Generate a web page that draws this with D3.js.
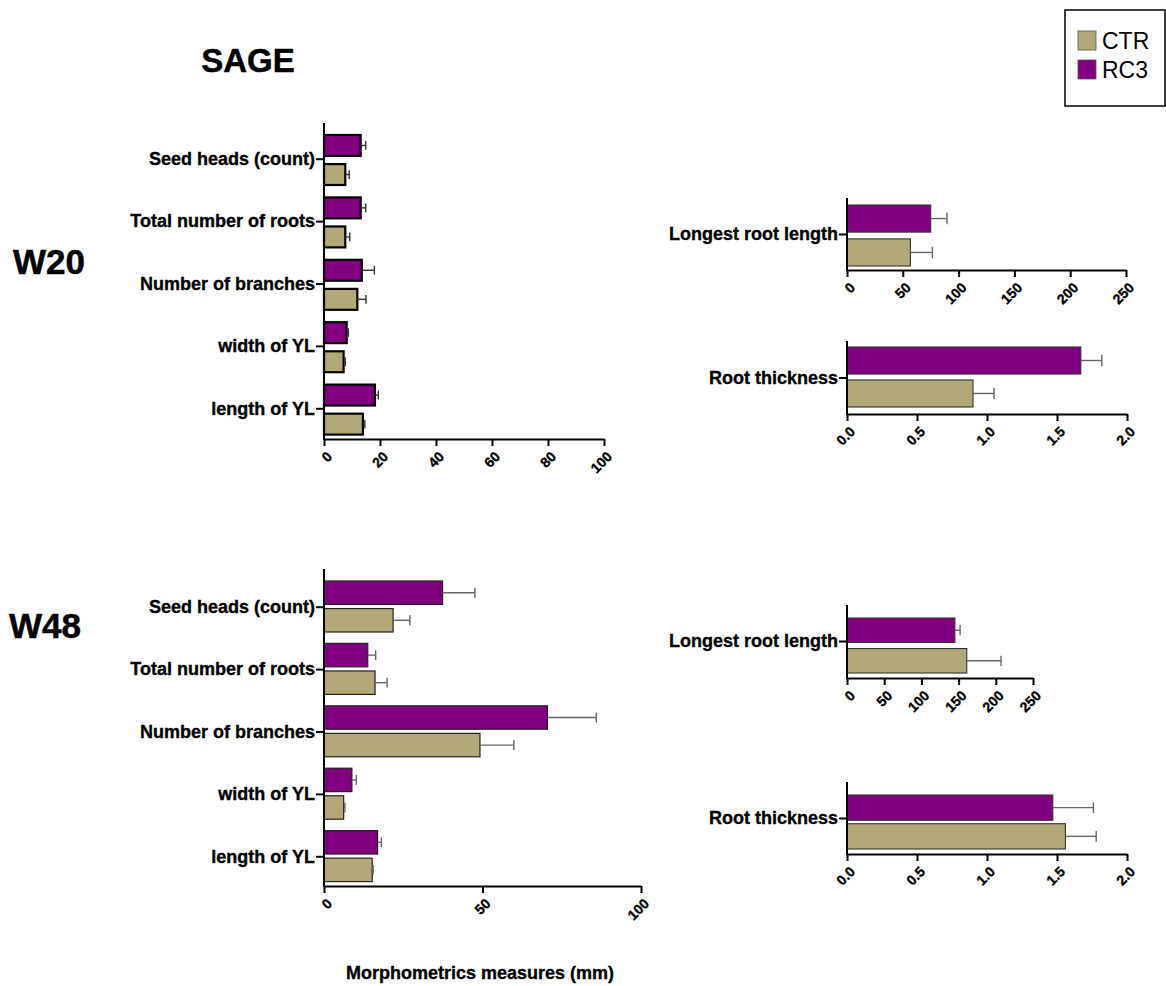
<!DOCTYPE html>
<html>
<head>
<meta charset="utf-8">
<script src="https://cdn.jsdelivr.net/npm/d3@7"></script>
<style>
  body { margin: 0; background: #fff; }
  svg text { font-family: "Liberation Sans", Arial, sans-serif; }
</style>
</head>
<body>
<div id="chart-container"></div>
<script>
// morphometrics of sage, CTR vs RC3, two harvest weeks
const svgWidth = 1166;
const svgHeight = 986;

const ctrColor = "#b3a878";
const rc3Color = "#800080";

// W20 small measures
const smallCats = ["Seed heads (count)", "Total number of roots", "Number of branches", "width of YL", "length of YL"];
const w20Ctr = [7.6, 7.6, 11.9, 7.0, 13.9];
const w20CtrErr = [1.4, 1.6, 3.1, 0.6, 0.7];
const w20Rc3 = [13.1, 13.1, 13.5, 8.1, 18.2];
const w20Rc3Err = [1.8, 1.8, 4.5, 0.6, 1.2];

// W48 small measures
const w48Ctr = [21.8, 16.1, 49.2, 6.2, 15.2];
const w48CtrErr = [5.3, 3.8, 10.7, 0.4, 0.3];
const w48Rc3 = [37.4, 13.8, 70.5, 8.8, 16.9];
const w48Rc3Err = [10.2, 2.5, 15.4, 1.4, 1.2];

// root measures [W20, W48]
const rootLenCtr = [56.8, 161];
const rootLenCtrErr = [19.7, 46];
const rootLenRc3 = [75, 145];
const rootLenRc3Err = [14.6, 7];
const rootThickCtr = [0.90, 1.56];
const rootThickCtrErr = [0.15, 0.22];
const rootThickRc3 = [1.67, 1.47];
const rootThickRc3Err = [0.15, 0.29];

const ticksW20 = [0, 20, 40, 60, 80, 100];
const ticksW48 = [0, 50, 100];
const ticksLen = [0, 50, 100, 150, 200, 250];
const ticksThick = [0, 0.5, 1.0, 1.5, 2.0];

const svg = d3.select("#chart-container")
    .append("svg")
    .attr("width", svgWidth)
    .attr("height", svgHeight);

function drawPanel(p) {
    const g = svg.append("g");
    const x = d3.scaleLinear().domain([0, p.max]).range([p.left, p.right]);
    const y = d3.scaleBand().domain(p.cats).range([p.bandTop, p.bandBottom]);
    const y1 = d3.scaleBand().domain(["RC3", "CTR"]).range(p.inner).paddingInner(p.pad);

    const rows = [];
    p.cats.forEach((c, i) => {
        rows.push({ cat: c, grp: "RC3", v: p.rc3[i], e: p.rc3Err[i] });
        rows.push({ cat: c, grp: "CTR", v: p.ctr[i], e: p.ctrErr[i] });
    });

    // bars
    g.selectAll("rect.bar")
        .data(rows)
        .join("rect")
        .attr("class", "bar")
        .attr("x", x(0))
        .attr("y", d => y(d.cat) + y1(d.grp))
        .attr("width", d => x(d.v) - x(0))
        .attr("height", y1.bandwidth())
        .attr("fill", d => d.grp == "CTR" ? ctrColor : rc3Color)
        .attr("stroke", p.barStroke)
        .attr("stroke-width", p.barStrokeW);

    // error bars
    const capH = y1.bandwidth() * 0.42;
    g.selectAll("line.err")
        .data(rows)
        .join("line")
        .attr("class", "err")
        .attr("x1", d => x(d.v))
        .attr("x2", d => x(d.v + d.e))
        .attr("y1", d => y(d.cat) + y1(d.grp) + y1.bandwidth() / 2)
        .attr("y2", d => y(d.cat) + y1(d.grp) + y1.bandwidth() / 2)
        .attr("stroke", p.errColor)
        .attr("stroke-width", 1.4);
    g.selectAll("line.cap")
        .data(rows)
        .join("line")
        .attr("class", "cap")
        .attr("x1", d => x(d.v + d.e))
        .attr("x2", d => x(d.v + d.e))
        .attr("y1", d => y(d.cat) + y1(d.grp) + y1.bandwidth() / 2 - capH / 2)
        .attr("y2", d => y(d.cat) + y1(d.grp) + y1.bandwidth() / 2 + capH / 2)
        .attr("stroke", p.errColor)
        .attr("stroke-width", 1.4);

    // y axis
    const yAxis = g.append("g")
        .attr("transform", `translate(${p.left},0)`)
        .call(d3.axisLeft(y).tickSize(8).tickPadding(1));
    yAxis.select(".domain").remove();
    yAxis.selectAll(".tick line").attr("stroke", "#000").attr("stroke-width", 2);
    yAxis.selectAll(".tick text")
        .attr("fill", "#000")
        .attr("stroke", "#000").attr("stroke-width", 0.35)
        .style("font-size", "18px")
        .style("font-weight", "bold");
    g.append("line")
        .attr("x1", p.left).attr("x2", p.left)
        .attr("y1", p.axisTop).attr("y2", p.axisY + 1)
        .attr("stroke", "#000").attr("stroke-width", 2);

    // x axis
    const xAxis = g.append("g")
        .attr("transform", `translate(0,${p.axisY})`)
        .call(d3.axisBottom(x).tickValues(p.ticks).tickFormat(p.fmt).tickSize(7).tickSizeOuter(0));
    xAxis.select(".domain").attr("stroke", "#000").attr("stroke-width", 2);
    xAxis.selectAll(".tick line").attr("stroke", "#000").attr("stroke-width", 2);
    xAxis.selectAll(".tick text")
        .attr("fill", "#000")
        .attr("stroke", "#000").attr("stroke-width", 0.35)
        .attr("x", 0).attr("y", 0).attr("dy", "0.35em")
        .attr("transform", "translate(5,15) rotate(-45)")
        .style("text-anchor", "end")
        .style("font-size", "14px")
        .style("font-weight", "bold");
}

// W20 left
drawPanel({
    cats: smallCats, ctr: w20Ctr, ctrErr: w20CtrErr, rc3: w20Rc3, rc3Err: w20Rc3Err,
    max: 100, ticks: ticksW20, fmt: d3.format("d"),
    left: 324, right: 604, bandTop: 128, bandBottom: 440, axisTop: 123, axisY: 439,
    inner: [7, 57], pad: 0.28, barStroke: "#000", barStrokeW: 2.2, errColor: "#333"
});
// W48 left
drawPanel({
    cats: smallCats, ctr: w48Ctr, ctrErr: w48CtrErr, rc3: w48Rc3, rc3Err: w48Rc3Err,
    max: 100, ticks: ticksW48, fmt: d3.format("d"),
    left: 324, right: 641, bandTop: 576, bandBottom: 888, axisTop: 569, axisY: 886,
    inner: [5, 56], pad: 0.15, barStroke: "#222", barStrokeW: 1.2, errColor: "#666"
});
// root length W20
drawPanel({
    cats: ["Longest root length"], ctr: [rootLenCtr[0]], ctrErr: [rootLenCtrErr[0]],
    rc3: [rootLenRc3[0]], rc3Err: [rootLenRc3Err[0]],
    max: 250, ticks: ticksLen, fmt: d3.format("d"),
    left: 847, right: 1126, bandTop: 199, bandBottom: 270, axisTop: 198, axisY: 270,
    inner: [6, 67], pad: 0.2, barStroke: "#333", barStrokeW: 1.1, errColor: "#666"
});
// root thickness W20
drawPanel({
    cats: ["Root thickness"], ctr: [rootThickCtr[0]], ctrErr: [rootThickCtrErr[0]],
    rc3: [rootThickRc3[0]], rc3Err: [rootThickRc3Err[0]],
    max: 2, ticks: ticksThick, fmt: d3.format(".1f"),
    left: 847, right: 1127, bandTop: 342, bandBottom: 414, axisTop: 341, axisY: 414,
    inner: [5, 65], pad: 0.18, barStroke: "#333", barStrokeW: 1.1, errColor: "#666"
});
// root length W48
drawPanel({
    cats: ["Longest root length"], ctr: [rootLenCtr[1]], ctrErr: [rootLenCtrErr[1]],
    rc3: [rootLenRc3[1]], rc3Err: [rootLenRc3Err[1]],
    max: 250, ticks: ticksLen, fmt: d3.format("d"),
    left: 847, right: 1033, bandTop: 605, bandBottom: 678, axisTop: 605, axisY: 678,
    inner: [13, 68], pad: 0.2, barStroke: "#333", barStrokeW: 1.1, errColor: "#666"
});
// root thickness W48
drawPanel({
    cats: ["Root thickness"], ctr: [rootThickCtr[1]], ctrErr: [rootThickCtrErr[1]],
    rc3: [rootThickRc3[1]], rc3Err: [rootThickRc3Err[1]],
    max: 2, ticks: ticksThick, fmt: d3.format(".1f"),
    left: 847, right: 1127, bandTop: 783, bandBottom: 854, axisTop: 782, axisY: 854,
    inner: [12, 66], pad: 0.12, barStroke: "#333", barStrokeW: 1.1, errColor: "#666"
});

// titles
svg.append("text").text("SAGE")
    .attr("x", 248).attr("y", 72)
    .attr("text-anchor", "middle")
    .attr("stroke", "#000").attr("stroke-width", 0.5)
    .style("font-size", "33px").style("font-weight", "bold");
svg.append("text").text("W20")
    .attr("x", 13).attr("y", 274)
    .attr("stroke", "#000").attr("stroke-width", 0.5)
    .style("font-size", "35px").style("font-weight", "bold");
svg.append("text").text("W48")
    .attr("x", 9).attr("y", 638)
    .attr("stroke", "#000").attr("stroke-width", 0.5)
    .style("font-size", "35px").style("font-weight", "bold");
svg.append("text").text("Morphometrics measures (mm)")
    .attr("x", 346).attr("y", 979)
    .attr("stroke", "#000").attr("stroke-width", 0.35)
    .style("font-size", "18px").style("font-weight", "bold");

// legend
const legendNames = ["CTR", "RC3"];
const legendColors = [ctrColor, rc3Color];
svg.append("rect")
    .attr("x", 1065).attr("y", 10)
    .attr("width", 100).attr("height", 96)
    .attr("fill", "none").attr("stroke", "#000").attr("stroke-width", 1.5);
const leg = svg.selectAll("g.leg")
    .data(legendNames)
    .join("g")
    .attr("class", "leg")
    .attr("transform", (d, i) => `translate(1078,${31 + i * 29})`);
leg.append("rect")
    .attr("width", 18).attr("height", 19)
    .attr("fill", (d, i) => legendColors[i])
    .attr("stroke", "#555").attr("stroke-width", 0.8);
leg.append("text")
    .text(d => d)
    .attr("x", 24).attr("y", 18)
    .style("font-size", "23px");
</script>
</body>
</html>
